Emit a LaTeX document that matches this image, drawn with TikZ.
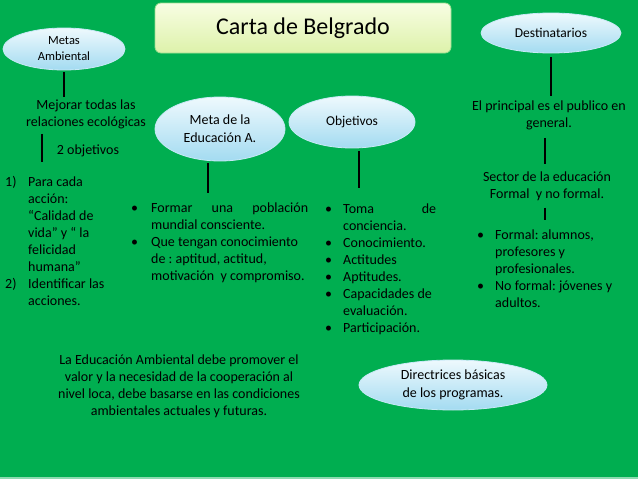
\documentclass[tikz,border=0pt]{standalone}
\usepackage{fontspec}
\setmainfont{Carlito}
\usetikzlibrary{shapes.geometric,backgrounds}

\definecolor{fondo}{HTML}{00AE50}
\definecolor{cielo}{HTML}{A3DBF1}
\definecolor{cielotop}{HTML}{EEF9FD}
\definecolor{limon}{HTML}{DDF2AA}
\definecolor{limontop}{HTML}{F8FDE3}

% bullet / numbered line with hanging indent
\newcommand{\nl}{\hfil\break}
\newcommand{\bul}[2][18pt]{\par\noindent\hangindent=#1\hangafter=1\makebox[#1][l]{\textbullet}#2}
\newcommand{\paso}[2]{\par\noindent\hangindent=23pt\hangafter=1\makebox[23pt][l]{#1}#2}

\begin{document}
\frenchspacing
\begin{tikzpicture}[x=1pt,y=-1pt,
    enlace/.style={line width=2.2pt, black},
    burbuja/.style={ellipse, draw=cielo!60!white, line width=0.8pt, top color=cielotop, bottom color=cielo,
      inner sep=0pt, align=center, text=black},
    texto/.style={inner sep=0pt, align=center, font=\fontsize{14}{17}\selectfont},
    lista/.style={inner sep=0pt, anchor=north west, font=\fontsize{14}{17}\selectfont}]
  \useasboundingbox (0,0) rectangle (638,479);
  \fill[fondo] (0,0) rectangle (638,479);
  \fill[fondo!45!white] (0,477) rectangle (638,479);

  % centre
  \node[draw=limon!70!fondo, line width=0.8pt, rounded corners=6pt, top color=limontop, bottom color=limon,
    minimum width=296, minimum height=50, font=\fontsize{24}{28}\selectfont] (carta) at (303,28) {Carta de Belgrado};

  % ellipses
  \node[burbuja, minimum width=122, minimum height=42, font=\fontsize{12.5}{16}\selectfont] (metas) at (64,49) {Metas\\Ambiental};
  \node[burbuja, minimum width=140, minimum height=40, font=\fontsize{13.5}{16}\selectfont] (dest) at (551,33) {Destinatarios};
  \node[burbuja, minimum width=130, minimum height=64, font=\fontsize{14}{18}\selectfont] (meta) at (220,129) {Meta de la\\Educación A.};
  \node[burbuja, minimum width=126, minimum height=52, font=\fontsize{13.5}{16}\selectfont] (obj) at (352,122) {Objetivos};
  \node[burbuja, minimum width=188, minimum height=50, font=\fontsize{14}{18}\selectfont] (direc) at (453,385) {Directrices básicas\\de los programas.};

  % texts
  \node[texto] (mejorar) at (86,114) {Mejorar todas las\\relaciones ecológicas};
  \node[texto] (dos) at (88,151) {2 objetivos};
  \node[lista, text width=108, align=flush left] (pasos) at (5,169) {%
    \paso{1)}{Para cada\nl acción:\nl “Calidad de\nl vida” y “ la\nl felicidad\nl humana”}%
    \paso{2)}{Identificar las\nl acciones.}\par};
  \node[lista, text width=177, align=justify] (metalista) at (131,195) {%
    \bul[20pt]{Formar una población\linebreak mundial consciente.}%
    \bul[20pt]{Que tengan conocimiento\nl de : aptitud, actitud,\nl motivación\ \ y compromiso.}\par};
  \node[lista, text width=111, align=justify] (objlista) at (325,196) {%
    \bul{Toma de\linebreak conciencia.}%
    \bul{Conocimiento.}%
    \bul{Actitudes}%
    \bul{Aptitudes.}%
    \bul{Capacidades de\nl evaluación.}%
    \bul{Participación.}\par};
  \node[texto] (principal) at (549,115) {El principal es el publico en\\general.};
  \node[texto] (sector) at (547,186) {Sector de la educación\\Formal\ \ y no formal.};
  \node[lista, text width=155, align=flush left] (destlista) at (477,222) {%
    \bul{Formal: alumnos,\nl profesores y\nl profesionales.}%
    \bul{No formal: jóvenes y\nl adultos.}\par};
  \node[texto] (educa) at (179,386) {La Educación Ambiental debe promover el\\valor y la necesidad de la cooperación al\\nivel loca, debe basarse en las condiciones\\ambientales actuales y futuras.};

  % connectors
  \begin{scope}[on background layer]
    \draw[enlace] (metas.45) -- ([yshift=-5]carta.west);
    \draw[enlace] (carta.east) -- (carta.east -| dest.center);
    \draw[enlace] (carta.south east) -- (carta.south east |- direc.center);
    \draw[enlace, shorten <=5pt] ([xshift=-12]meta.north |- carta.south) -- ([xshift=-12]meta.center);
    \draw[enlace, shorten <=5pt] ([xshift=-5]obj.north |- carta.south) -- ([xshift=-5]obj.center);
    \draw[enlace] (direc.center) -- ([xshift=-1]educa.east |- direc.center);
  \end{scope}
  \draw[enlace, shorten <=2pt, shorten >=2pt] (metas.south) -- (metas.south |- mejorar.north);
  \draw[enlace, shorten <=5pt, shorten >=7pt] ([xshift=-44]mejorar.south) -- ([xshift=-44]mejorar.south |- pasos.north);
  \draw[enlace, shorten <=2pt, shorten >=2pt] ([xshift=-12]meta.south) -- ([xshift=-12]meta.south |- metalista.north);
  \draw[enlace, shorten <=3pt, shorten >=8pt] ([xshift=7]obj.south) -- ([xshift=7]obj.south |- objlista.north);
  \draw[enlace, shorten <=4pt, shorten >=4pt] (dest.south) -- (dest.south |- principal.north);
  \draw[enlace, shorten <=8pt, shorten >=7pt] ([xshift=-4]principal.south) -- ([xshift=-4]principal.south |- sector.north);
  \draw[enlace, shorten <=7pt, shorten >=2pt] ([xshift=-2]sector.south) -- ([xshift=-2]sector.south |- destlista.north);
\end{tikzpicture}
\end{document}
